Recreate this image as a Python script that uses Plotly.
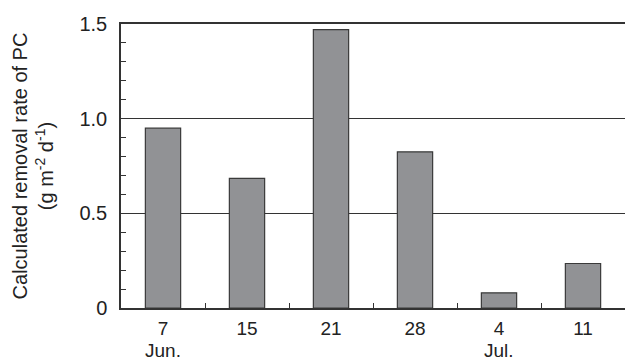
import plotly.graph_objects as go

# Sampling dates (day of month) and the month shown beneath the first date of each month
days = ["7", "15", "21", "28", "4", "11"]
months = ["Jun.", "", "", "", "Jul.", ""]
# Calculated removal rate of PC (g m-2 d-1)
removal_rate = [0.95, 0.685, 1.47, 0.825, 0.08, 0.235]

y_ticks = [0, 0.5, 1.0, 1.5]
y_tick_text = ["0", "0.5", "1.0", "1.5"]

x_pos = list(range(len(days)))
# small inside ticks between sampling dates and every 0.1 on the value axis
x_minor = [i + 0.5 for i in x_pos[:-1]]
y_minor = [round(i * 0.1, 1) for i in range(1, 15) if i % 5]

FONT = "Liberation Sans, Arial, sans-serif"
INK = "#222222"
LINE = "#333333"

fig = go.Figure()
fig.add_trace(go.Bar(
    x=x_pos,
    y=removal_rate,
    width=0.42,
    marker=dict(color="#919295", line=dict(color="#3a3a3a", width=1.2)),
))

# month names under the first sampling date of each month
for xi, m in zip(x_pos, months):
    if m:
        fig.add_annotation(x=xi, xref="x", y=-0.148, yref="paper", yanchor="middle",
                           text=m, showarrow=False, font=dict(size=19, color=INK))

fig.update_layout(
    width=625, height=358,
    margin=dict(l=121, r=0, t=24, b=50),
    plot_bgcolor="white", paper_bgcolor="white",
    showlegend=False,
    font=dict(family=FONT, size=19, color=INK),
    xaxis=dict(
        tickmode="array", tickvals=x_pos, ticktext=days,
        range=[-0.5, len(days) - 0.5],
        showline=True, mirror=True, linecolor=LINE, linewidth=1.5,
        showgrid=False, zeroline=False,
        ticks="", ticklabelstandoff=2, automargin=False,
        minor=dict(tickmode="array", tickvals=x_minor,
                   ticks="inside", ticklen=5, tickcolor=LINE, tickwidth=1, showgrid=False),
        fixedrange=True,
    ),
    yaxis=dict(
        range=[0, 1.5],
        tickmode="array", tickvals=y_ticks, ticktext=y_tick_text,
        tickfont=dict(size=20),
        showline=True, linecolor=LINE, linewidth=1.5,
        showgrid=True, gridcolor=LINE, gridwidth=1,
        zeroline=False,
        ticks="inside", ticklen=5, tickcolor=LINE,
        ticklabelstandoff=8, automargin=False,
        minor=dict(tickmode="array", tickvals=y_minor, ticks="inside", ticklen=5,
                   tickcolor=LINE, tickwidth=1, showgrid=False),
        title=dict(text="Calculated removal rate of PC<br>(g m<sup>-2</sup> d<sup>-1</sup>)",
                   font=dict(size=20, color=INK), standoff=20),
        fixedrange=True,
    ),
)

fig.write_html("out.html")
